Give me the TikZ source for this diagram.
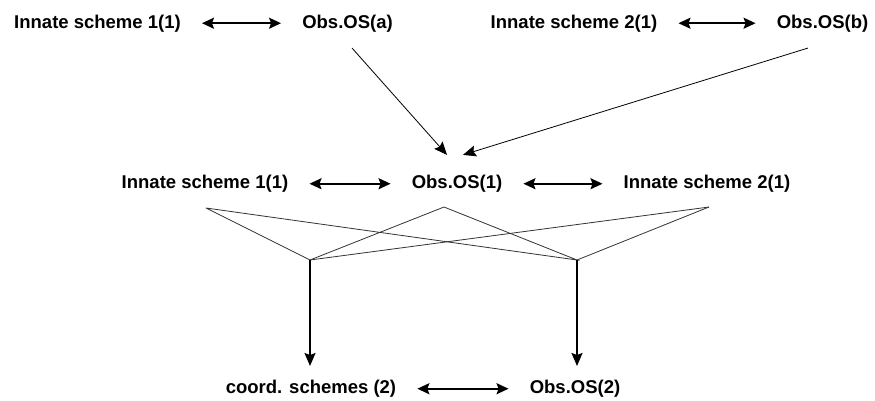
\documentclass[tikz,border=0pt]{standalone}
\usepackage{fontspec}
\setmainfont{Liberation Sans}
\usetikzlibrary{arrows.meta}
\begin{document}
\begin{tikzpicture}[x=1pt,y=-1pt,
  lbl/.style={inner sep=0pt,anchor=base,font=\fontsize{18.5}{22}\selectfont\bfseries},
  tip/.style={Stealth[length=12pt,width=11pt,inset=2pt]},
  dbl/.style={{Stealth[length=12pt,width=11pt,inset=2pt]}-{Stealth[length=12pt,width=11pt,inset=2pt]},line width=1.8pt,shorten <=21pt,shorten >=21pt},
  feed/.style={-{Stealth[length=13pt,width=11pt,inset=2pt]},line width=0.8pt},
  web/.style={line width=0.8pt,black!80},
  down/.style={-{Stealth[length=13pt,width=11pt,inset=2pt]},line width=1.8pt}]
\useasboundingbox (0,0) rectangle (875,400);

% top row
\node[lbl] (t1) at (97.5,28) {Innate scheme 1(1)};
\node[lbl] (t2) at (347.5,28) {Obs.OS(a)};
\node[lbl] (t3) at (574,28) {Innate scheme 2(1)};
\node[lbl] (t4) at (822.5,28) {Obs.OS(b)};
\draw[dbl] (t1.east) -- (t2.west);
\draw[dbl] (t3.east) -- (t4.west);

% middle row
\node[lbl] (m1) at (205,188.5) {Innate scheme 1(1)};
\node[lbl] (m2) at (457,188.5) {Obs.OS(1)};
\node[lbl] (m3) at (707,188.5) {Innate scheme 2(1)};
\draw[dbl] (m1.east) -- (m2.west);
\draw[dbl] (m2.east) -- (m3.west);

% observations feeding the middle one
\draw[feed] ([xshift=4.5pt,yshift=-16pt]t2.south) -- ([xshift=-10pt,yshift=20pt]m2.north);
\draw[feed] ([xshift=-14.5pt,yshift=-16pt]t4.south) -- ([xshift=6pt,yshift=20pt]m2.north);

% bottom row
\node[lbl] (b1) at (311,393.5) {coord. schemes (2)};
\node[lbl] (b2) at (575,393.5) {Obs.OS(2)};
\draw[dbl] (b1.east) -- (b2.west);

% crossing web
\coordinate (p1) at (206,208);
\coordinate (p2) at (444,207);
\coordinate (p3) at (709,207);
\coordinate (q1) at (310,260);
\coordinate (q2) at (577,260);
\draw[web] (p1) -- (q1) -- (p2) -- (q2) -- (p1);
\draw[web] (p3) -- (q1);
\draw[web] (p3) -- (q2);

\draw[down] (q1) -- (q1 |- 0,366);
\draw[down] (q2) -- (q2 |- 0,366);
\end{tikzpicture}
\end{document}
